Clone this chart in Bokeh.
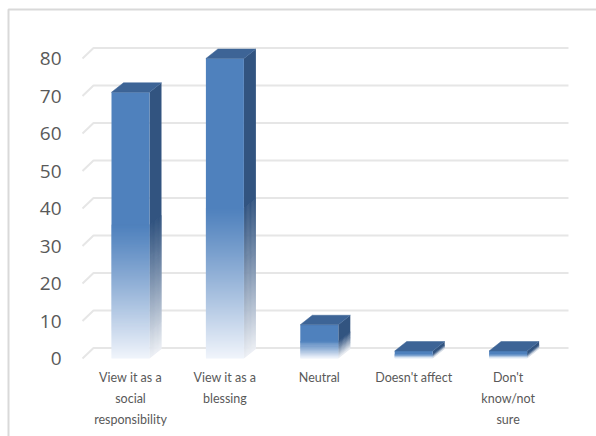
from bokeh.plotting import figure
from bokeh.models import Range1d, ColumnDataSource
from bokeh.core.properties import value
from bokeh.embed import file_html
from bokeh.resources import INLINE

# Survey answers and their values
categories = [
    "View it as a\nsocial\nresponsibility",
    "View it as a\nblessing",
    "Neutral",
    "Doesn't affect",
    "Don't\nknow/not\nsure",
]
values = [71, 80, 9, 2, 2]
y_ticks = [0, 10, 20, 30, 40, 50, 60, 70, 80]

# Canvas geometry (pixels)
W, H = 596, 436
STEP = 94.4      # pixels between category centres
UNIT = 3.75      # pixels per value unit
X0_PX = 130      # pixel column of the first category
Y0_PX = 358      # pixel row of value 0

x_start = -X0_PX / STEP
x_end = (W - X0_PX) / STEP
y_end = Y0_PX / UNIT
y_start = -(H - Y0_PX) / UNIT

p = figure(
    width=W, height=H,
    x_range=Range1d(x_start, x_end), y_range=Range1d(y_start, y_end),
    output_backend="svg", toolbar_location=None, min_border=0,
    x_axis_location=None, y_axis_location=None,
)
p.grid.visible = False
p.outline_line_color = None
p.background_fill_color = "white"
p.border_fill_color = "white"

def px_x(px):
    return (px - X0_PX) / STEP

def px_y(py):
    return (Y0_PX - py) / UNIT

# 3-D depth offsets in data units
DX = 12 / STEP
DY = 9.5 / UNIT
HW = 19 / STEP
OVER = 0.6 / UNIT   # slight overlap between gradient slices

# chart border
bx, by = px_x(8), px_y(9)
p.line([bx, bx, x_end + 1], [y_start - 1, by, by], line_color="#d9d9d9", line_width=2)

# perspective gridlines
GX0, GX1 = px_x(82), px_x(568)
GDX, GDY = 11 / STEP, 10.5 / UNIT
p.multi_line(
    xs=[[GX0, GX0 + GDX, GX1] for _ in y_ticks],
    ys=[[t, t + GDY, t + GDY] for t in y_ticks],
    line_color="#e6e6e6", line_width=2,
)

FRONT = (79, 129, 189)
SIDE = (50, 84, 128)
TOP = (61, 100, 150)
FRONT_END = (240, 244, 251)
SIDE_END = (236, 239, 244)

def mix(c0, c1, t):
    return "#%02x%02x%02x" % tuple(int(round(a + (b - a) * t)) for a, b in zip(c0, c1))

fq = dict(left=[], right=[], bottom=[], top=[], color=[])
sp = dict(xs=[], ys=[], color=[])
tp = dict(xs=[], ys=[], color=[])

for i, v in enumerate(values):
    xl, xr = i - HW, i + HW
    half = v / 2.0
    # solid upper half of the front and side faces
    fq["left"].append(xl); fq["right"].append(xr)
    fq["bottom"].append(half); fq["top"].append(v)
    fq["color"].append(mix(FRONT, FRONT, 0))
    sp["xs"].append([xr, xr + DX, xr + DX, xr])
    sp["ys"].append([half, half + DY, v + DY, v])
    sp["color"].append(mix(SIDE, SIDE, 0))
    # fading lower half, top to bottom, roughly one slice per pixel
    n = max(6, int(half * UNIT))
    for k in range(n):
        y1 = half - half * k / n
        y0 = half - half * (k + 1) / n
        t = ((k + 0.5) / n) ** 1.1
        yt = min(y1 + OVER, v)
        fq["left"].append(xl); fq["right"].append(xr)
        fq["bottom"].append(y0); fq["top"].append(yt)
        fq["color"].append(mix(FRONT, FRONT_END, t))
        sp["xs"].append([xr, xr + DX, xr + DX, xr])
        sp["ys"].append([y0, y0 + DY, yt + DY, yt])
        sp["color"].append(mix(SIDE, SIDE_END, t))
    # top face
    tp["xs"].append([xl, xr, xr + DX, xl + DX])
    tp["ys"].append([v, v, v + DY, v + DY])
    tp["color"].append(mix(TOP, TOP, 0))

p.patches("xs", "ys", source=ColumnDataSource(sp), fill_color="color", line_color=None)
p.quad(left="left", right="right", bottom="bottom", top="top",
       source=ColumnDataSource(fq), fill_color="color", line_color=None)
p.patches("xs", "ys", source=ColumnDataSource(tp), fill_color="color",
          line_color="color", line_width=0.5)

# value labels on the left
p.text(x=[px_x(61)] * len(y_ticks), y=y_ticks, text=[str(t) for t in y_ticks],
       text_align="right", text_baseline="middle",
       text_font=value("Open Sans"), text_font_size="19px", text_color="#595959")

# category labels
p.text(x=list(range(len(categories))), y=[px_y(369)] * len(categories), text=categories,
       text_align="center", text_baseline="top", text_line_height=1.42,
       text_font=value("Lato"), text_font_size="12.5px", text_color="#595959")

open("out.html", "w").write(file_html(p, INLINE))
